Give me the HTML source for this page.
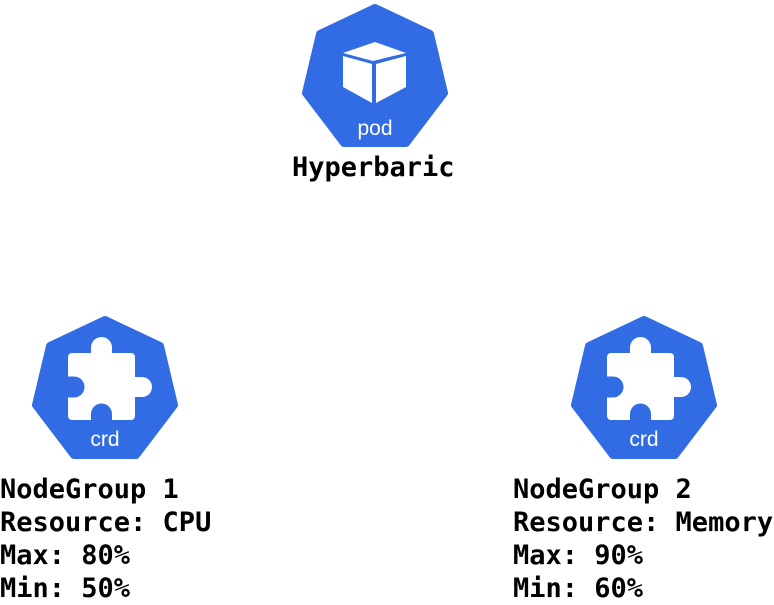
<!DOCTYPE html>
<html><head><meta charset="utf-8"><style>
body{margin:0;width:774px;height:600px;background:#fff;overflow:hidden;position:relative}
.t{position:absolute;font-family:"DejaVu Sans Mono","Liberation Mono",monospace;font-weight:bold;font-size:27px;color:#000;white-space:pre;line-height:33px}
</style></head><body>
<svg width="774" height="600" style="position:absolute;left:0;top:0">
<defs>
<g id="hep"><polygon points="73,4 128,30 142,89 104,139 42,139 4,89 18,30" fill="#326ce5" stroke="#326ce5" stroke-width="8" stroke-linejoin="round"/></g>
<g id="puz">
<rect x="36" y="37" width="67" height="67" rx="4" fill="#fff"/>
<circle cx="69.5" cy="31.5" r="10.5" fill="#fff"/>
<rect x="59" y="31" width="21" height="8" fill="#fff"/>
<circle cx="110" cy="71" r="10" fill="#fff"/>
<rect x="100" y="61" width="10" height="20" fill="#fff"/>
<circle cx="42" cy="71" r="10.5" fill="#326ce5"/>
<rect x="34" y="60.5" width="8" height="21" fill="#326ce5"/>
<circle cx="69.5" cy="98" r="10.5" fill="#326ce5"/>
<rect x="59" y="98" width="21" height="8" fill="#326ce5"/>
<text x="73" y="130" text-anchor="middle" font-family="Liberation Sans,sans-serif" font-size="21" fill="#fff">crd</text>
</g>
</defs>
<g transform="translate(302,4)"><use href="#hep"/>
<polygon points="41,49 73,38 104,49 71,57" fill="#fff"/>
<polygon points="41,52 70,60 70,99 41,83" fill="#fff"/>
<polygon points="74,60 104,52 104,83 74,99" fill="#fff"/>
<text x="73" y="131" text-anchor="middle" font-family="Liberation Sans,sans-serif" font-size="21" fill="#fff">pod</text>
</g>
<g transform="translate(32,316)"><use href="#hep"/><use href="#puz"/></g>
<g transform="translate(571,316)"><use href="#hep"/><use href="#puz"/></g>
</svg>
<div class="t" style="left:292px;top:151px">Hyperbaric</div>
<div class="t" style="left:0;top:473px">NodeGroup 1
Resource: CPU
Max: 80%
Min: 50%</div>
<div class="t" style="left:513px;top:473px">NodeGroup 2
Resource: Memory
Max: 90%
Min: 60%</div>
</body></html>
